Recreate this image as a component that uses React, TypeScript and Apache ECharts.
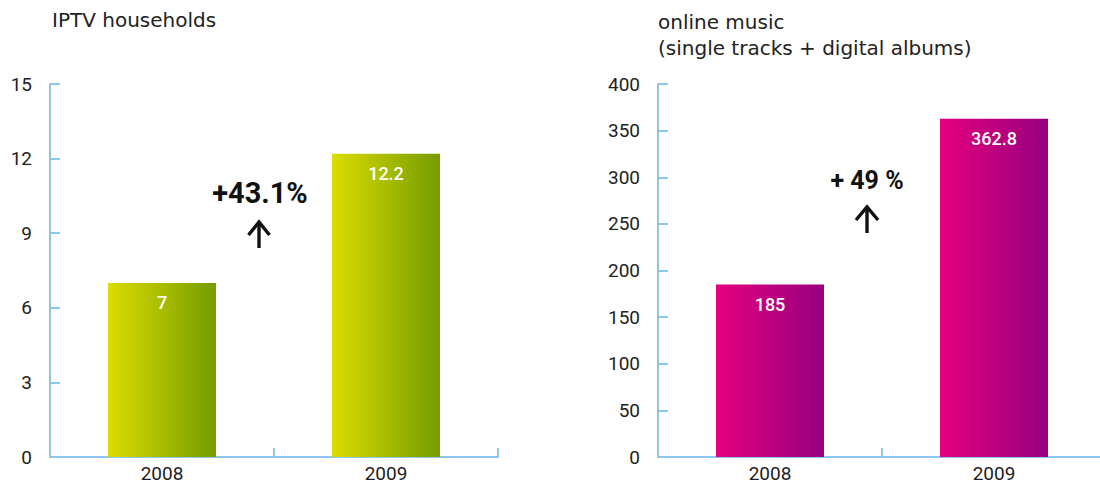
import React, { useEffect, useRef } from "react";
import * as echarts from "echarts";

const categories = ["2008", "2009"];
const iptvValues = [7, 12.2];
const musicValues = [185, 362.8];
const iptvTitle = "IPTV households";
const musicTitle = "online music\n(single tracks + digital albums)";
const iptvGrowth = "+43.1%";
const musicGrowth = "+ 49 %";

const AXIS = "#8cc6ec";
const TXT = "#222222";

function grad(c1: string, c2: string) {
  return new echarts.graphic.LinearGradient(0, 0, 1, 0, [
    { offset: 0, color: c1 },
    { offset: 1, color: c2 },
  ]);
}

function arrow(cx: number, tip: number, headW: number, headH: number, stemBottom: number) {
  return {
    type: "group",
    children: [
      {
        type: "line",
        shape: { x1: cx, y1: tip + 2, x2: cx, y2: stemBottom },
        style: { stroke: "#111", lineWidth: 3.4 },
      },
      {
        type: "polyline",
        shape: { points: [[cx - headW / 2, tip + headH], [cx, tip], [cx + headW / 2, tip + headH]] },
        style: { stroke: "#111", lineWidth: 3.4, fill: null },
      },
    ],
  };
}

export default function App() {
  const ref = useRef<HTMLDivElement>(null);
  useEffect(() => {
    document.body.style.margin = "0";
    document.body.style.overflow = "hidden";
    const chart = echarts.init(ref.current!, null, { renderer: "svg" });
    const yAxisCommon = (min: number, max: number, interval: number) => ({
      type: "value",
      min,
      max,
      interval,
      axisLine: { show: true, lineStyle: { color: AXIS, width: 2 } },
      axisTick: { show: true, inside: true, length: 10, lineStyle: { color: AXIS, width: 2 } },
      splitLine: { show: false },
      axisLabel: { color: TXT, fontSize: 19, fontFamily: "Roboto", margin: 18 },
    });
    const xAxisCommon = (gridIndex: number) => ({
      type: "category",
      gridIndex,
      data: categories,
      boundaryGap: true,
      axisLine: { show: true, lineStyle: { color: AXIS, width: 2 } },
      axisTick: { show: true, inside: true, length: 9, lineStyle: { color: AXIS, width: 2 } },
      axisLabel: { color: TXT, fontSize: 19, fontFamily: "Roboto", margin: 7 },
    });
    const labelCommon = {
      show: true,
      position: "insideTop",
      distance: 11,
      color: "#ffffff",
      fontSize: 18,
      fontWeight: 500,
      fontFamily: "Roboto",
    };
    chart.setOption({
      animation: false,
      backgroundColor: "#ffffff",
      grid: [
        { left: 50, top: 84, width: 448, height: 373 },
        { left: 658, top: 84, width: 448, height: 373 },
      ],
      xAxis: [xAxisCommon(0), xAxisCommon(1)],
      yAxis: [
        { ...yAxisCommon(0, 15, 3), gridIndex: 0 },
        { ...yAxisCommon(0, 400, 50), gridIndex: 1 },
      ],
      series: [
        {
          type: "bar",
          xAxisIndex: 0,
          yAxisIndex: 0,
          data: iptvValues,
          barWidth: 108,
          itemStyle: { color: grad("#dcdc00", "#759c00") },
          label: labelCommon,
        },
        {
          type: "bar",
          xAxisIndex: 1,
          yAxisIndex: 1,
          data: musicValues,
          barWidth: 108,
          itemStyle: { color: grad("#e6007e", "#970080") },
          label: labelCommon,
        },
      ],
      graphic: [
        {
          type: "text",
          x: 52,
          y: 10,
          style: { text: iptvTitle, fontSize: 20, fontFamily: "DejaVu Sans", fill: TXT },
        },
        {
          type: "text",
          x: 658,
          y: 9,
          style: { text: musicTitle, fontSize: 20, lineHeight: 26, fontFamily: "DejaVu Sans", fill: TXT },
        },
        {
          type: "text",
          x: 260,
          y: 193,
          style: {
            text: iptvGrowth,
            fontSize: 29,
            fontWeight: "bold",
            fontFamily: "Roboto",
            fill: "#111",
            align: "center",
            verticalAlign: "middle",
          },
        },
        {
          type: "text",
          x: 867,
          y: 180,
          style: {
            text: musicGrowth,
            fontSize: 25,
            fontWeight: "bold",
            fontFamily: "Roboto",
            fill: "#111",
            align: "center",
            verticalAlign: "middle",
          },
        },
        arrow(259, 222, 21, 13, 248),
        arrow(867, 207, 22, 13, 233),
      ],
    });
    return () => chart.dispose();
  }, []);
  return (
    <div style={{ width: 1100, height: 491, overflow: "hidden" }}>
      <div ref={ref} style={{ width: 1120, height: 491 }} />
    </div>
  );
}
